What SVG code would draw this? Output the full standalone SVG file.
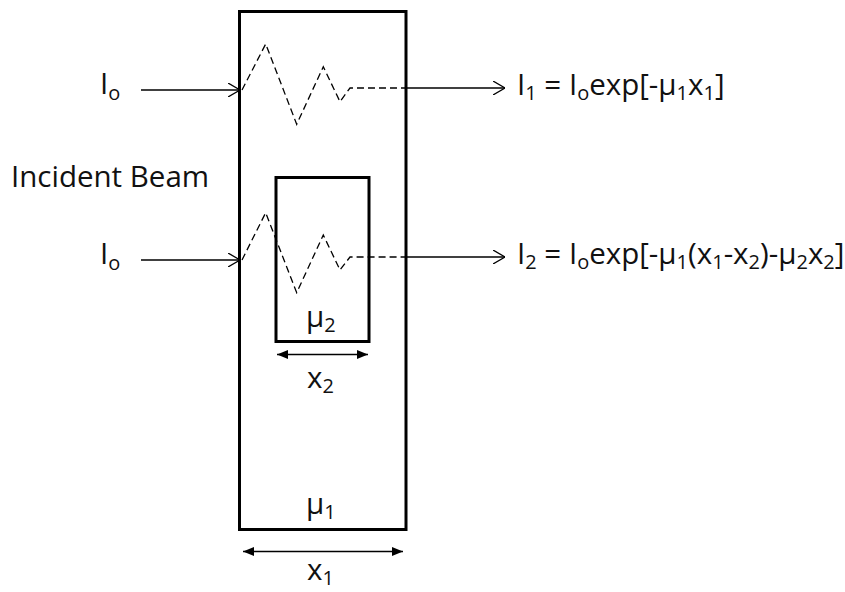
<svg xmlns="http://www.w3.org/2000/svg" width="845" height="592" viewBox="0 0 845 592">
<style>
text{font-family:"Open Sans","Liberation Sans",sans-serif;font-size:29.5px;fill:#111}
.sub{font-size:20px}
.box{fill:none;stroke:#000;stroke-width:3}
.ln{fill:none;stroke:#000;stroke-width:1.3}
.dash{fill:none;stroke:#000;stroke-width:1.3;stroke-dasharray:7 4}
</style>
<defs>
<marker id="open" viewBox="0 0 12 14" refX="12" refY="7" markerWidth="12" markerHeight="14" markerUnits="userSpaceOnUse" orient="auto">
<path d="M0,0 L12,7 L0,14" fill="none" stroke="#000" stroke-width="1.3"/>
</marker>
<marker id="fill" viewBox="0 0 11 9" refX="11" refY="4.5" markerWidth="11" markerHeight="9" markerUnits="userSpaceOnUse" orient="auto-start-reverse">
<path d="M0,0 L11,4.5 L0,9 Z" fill="#000"/>
</marker>
</defs>
<g id="sample">
<rect class="box" x="239.5" y="11.5" width="166.5" height="518"/>
</g>
<g id="inclusion">
<rect class="box" x="276" y="177.5" width="93" height="164"/>
</g>
<g id="connectors">
<line class="ln" x1="141" y1="90" x2="240" y2="90" marker-end="url(#open)"/>
<polyline class="dash" points="242,90 265.7,44 296.7,124.3 323.3,66.7 340,101.7 350,88 406,88"/>
<line class="ln" x1="406" y1="88" x2="505" y2="88" marker-end="url(#open)"/>
<line class="ln" x1="141" y1="260" x2="240" y2="260" marker-end="url(#open)"/>
<polyline class="dash" points="242,260 265.7,212.7 296.7,292.7 323.3,235 340,270 350,257 406,257"/>
<line class="ln" x1="406" y1="257" x2="505" y2="257" marker-end="url(#open)"/>
<line class="ln" x1="277" y1="354.5" x2="368" y2="354.5" marker-start="url(#fill)" marker-end="url(#fill)"/>
<line class="ln" x1="243" y1="551.5" x2="403" y2="551.5" marker-start="url(#fill)" marker-end="url(#fill)"/>
</g>
<g id="labels">
<text x="11" y="187">Incident Beam</text>
<text x="100" y="94">I<tspan class="sub" dy="6">o</tspan></text>
<text x="100" y="264">I<tspan class="sub" dy="6">o</tspan></text>
<text x="517" y="95">I<tspan class="sub" dy="5">1</tspan><tspan dy="-5"> = I</tspan><tspan class="sub" dy="5">o</tspan><tspan dy="-5">exp[-μ</tspan><tspan class="sub" dy="5">1</tspan><tspan dy="-5">x</tspan><tspan class="sub" dy="5">1</tspan><tspan dy="-5">]</tspan></text>
<text x="517" y="264">I<tspan class="sub" dy="5">2</tspan><tspan dy="-5"> = I</tspan><tspan class="sub" dy="5">o</tspan><tspan dy="-5">exp[-μ</tspan><tspan class="sub" dy="5">1</tspan><tspan dy="-5">(x</tspan><tspan class="sub" dy="5">1</tspan><tspan dy="-5">-x</tspan><tspan class="sub" dy="5">2</tspan><tspan dy="-5">)-μ</tspan><tspan class="sub" dy="5">2</tspan><tspan dy="-5">x</tspan><tspan class="sub" dy="5">2</tspan><tspan dy="-5">]</tspan></text>
<text x="306" y="327">μ<tspan class="sub" dy="5">2</tspan></text>
<text x="307" y="388">x<tspan class="sub" dy="5">2</tspan></text>
<text x="306" y="514">μ<tspan class="sub" dy="5">1</tspan></text>
<text x="307" y="580">x<tspan class="sub" dy="5">1</tspan></text>
</g>
</svg>
